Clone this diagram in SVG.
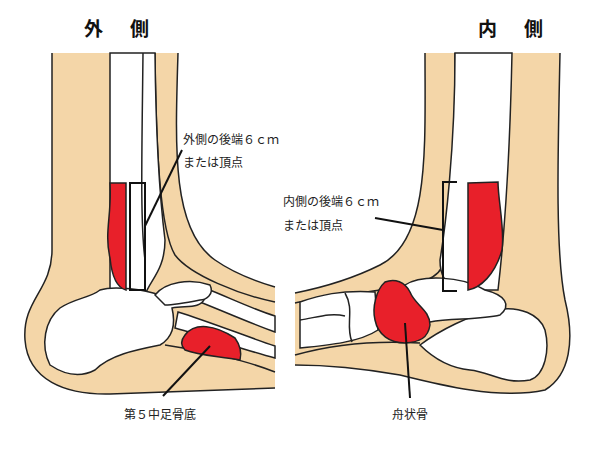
<svg xmlns="http://www.w3.org/2000/svg" width="600" height="450" viewBox="0 0 600 450">
<style>
.skin{fill:#F4D6A8;stroke:none}
.ln{fill:none;stroke:#222;stroke-width:1.5}
.bone{fill:#fff;stroke:#222;stroke-width:1.5}
.red{fill:#E8202A;stroke:#222;stroke-width:1.5}
.t{font-family:"Noto Sans CJK JP","Noto Sans",sans-serif;font-size:12px;fill:#222}
.h{font-family:"Noto Sans CJK JP",sans-serif;font-size:19px;font-weight:bold;fill:#111}
.lead{stroke:#111;stroke-width:2;fill:none}
</style>
<rect width="600" height="450" fill="#fff"/>
<text class="h" x="84" y="36">外</text><text class="h" x="130" y="36">側</text>
<text class="h" x="478" y="36">内</text><text class="h" x="524" y="36">側</text>

<g id="left-foot">
<path class="skin" d="M52,53 L178,53 C175,150 172,230 215,260 C235,274 258,282 275,287 L275,388 L110,394 C65,395 28,380 25,340 C22,300 52,290 52,250 Z"/>
<path class="ln" d="M52,53 L52,250 C52,290 22,300 25,340 C28,380 65,395 110,394 L275,388"/>
<path class="ln" d="M178,53 C175,150 172,230 215,260 C235,274 258,282 275,287"/>
<path class="ln" d="M155,53 C156,150 160,230 175,255 C190,275 240,295 275,302"/>
<path class="ln" d="M165,345 C200,350 245,360 275,372"/>
<path class="bone" d="M110,53 L155,53 C156,150 160,200 165,240 C165,270 150,280 145,295 L110,295 Z"/>
<path class="ln" d="M143,53 C142,150 140,220 145,260"/>
<path class="bone" d="M205,288 C230,298 255,310 275,316 L275,332 C255,325 230,314 200,302 Z"/>
<path class="bone" d="M178,312 C210,322 245,336 275,346 L275,358 C245,350 210,338 175,328 Z"/>
<path class="bone" d="M100,290 C115,285 145,290 160,295 C175,280 200,285 205,298 C200,310 185,305 172,308 C176,325 172,338 160,345 C135,350 110,355 95,370 C80,378 65,375 50,365 C40,345 45,320 60,308 C75,298 90,298 100,290 Z"/>
<path class="bone" d="M155,295 C165,282 190,278 210,285 C215,295 205,300 200,300 C190,302 175,305 165,305 Z"/>
<path class="red" d="M110,183 L126,183 L126,290 C118,288 112,278 110,258 C104,232 112,215 110,183 Z"/>
<path class="red" d="M185,335 C195,322 215,325 235,338 C240,345 242,352 240,360 C220,356 200,356 185,350 C180,345 181,340 185,335 Z"/>
<rect x="130" y="183" width="15" height="107" fill="none" stroke="#111" stroke-width="2"/>
</g>

<g id="right-foot">
<path class="skin" d="M425,53 L560,53 C558,150 555,250 565,300 C575,340 570,375 545,390 C500,400 440,385 400,375 C360,368 320,365 295,365 L295,293 C320,288 350,280 380,265 C430,240 425,150 425,53 Z"/>
<path class="ln" d="M425,53 C425,150 430,240 380,265 C350,280 320,288 295,293"/>
<path class="ln" d="M560,53 C558,150 555,250 565,300 C575,340 570,375 545,390 C500,400 440,385 400,375 C360,368 320,365 295,365"/>
<path class="ln" d="M455,53 C455,150 452,230 445,260 C440,280 420,285 380,290 C340,296 310,300 295,303"/>
<path class="ln" d="M295,355 C330,345 370,340 420,343"/>
<path class="bone" d="M455,53 L512,53 C510,150 505,230 498,290 L460,290 C445,285 440,275 440,260 C445,230 455,150 455,53 Z"/>
<path class="bone" d="M420,345 C440,330 470,315 495,310 C520,305 540,315 545,330 C550,350 545,375 530,380 C505,385 490,372 470,370 C450,368 435,360 420,345 Z"/>
<path class="bone" d="M405,285 C420,275 460,275 485,290 C505,295 512,305 500,315 C480,320 450,318 430,322 C415,315 405,300 405,285 Z"/>
<path class="bone" d="M300,302 C320,295 340,290 375,292 L378,330 C360,342 330,345 300,348 Z"/>
<path class="ln" d="M345,293 C355,310 345,325 352,342 M300,320 C315,318 330,312 345,316"/>
<path class="red" d="M385,282 C395,278 405,282 410,292 C415,305 430,310 430,325 C428,338 420,342 405,343 C390,343 378,335 375,320 C372,308 376,290 385,282 Z"/>
<path class="red" d="M468,183 L498,182 C498,200 505,230 502,250 C495,275 480,288 468,290 Z"/>
<path d="M457,182 L443,182 L443,291 L457,291" fill="none" stroke="#111" stroke-width="2"/>
</g>

<g id="connectors">
<path class="lead" d="M182,150 L145,226"/>
<path class="lead" d="M375,218 L443,230"/>
<path class="lead" d="M163,396 L210,346"/>
<path class="lead" d="M405,323 L410,398"/>
</g>

<g id="labels">
<text class="t" x="183" y="144">外側の後端６ｃｍ</text>
<text class="t" x="183" y="167">または頂点</text>
<text class="t" x="283" y="206">内側の後端６ｃｍ</text>
<text class="t" x="283" y="230">または頂点</text>
<text class="t" x="160" y="419" text-anchor="middle">第５中足骨底</text>
<text class="t" x="410" y="419" text-anchor="middle">舟状骨</text>
</g>
</svg>
